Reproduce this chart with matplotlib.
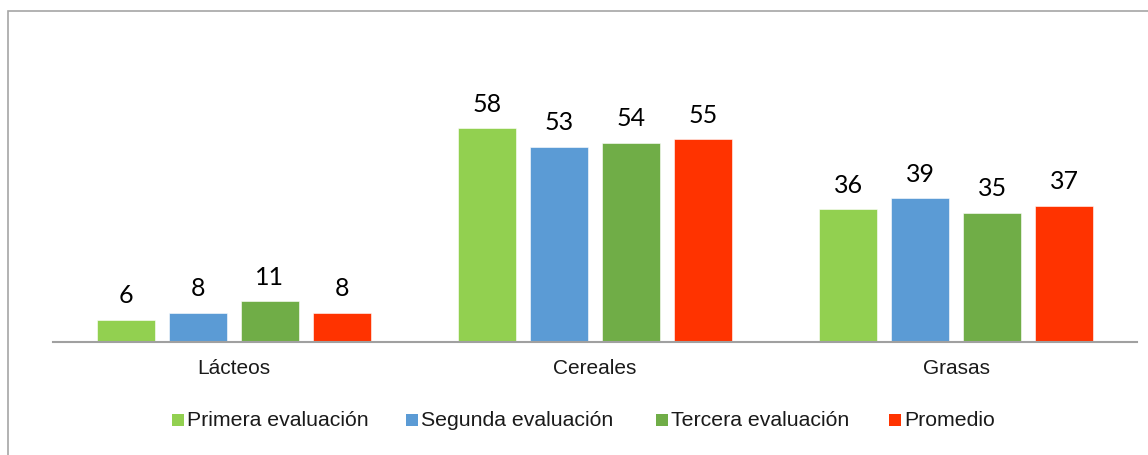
import matplotlib
matplotlib.use("Agg")
import matplotlib.pyplot as plt
from matplotlib.patches import Rectangle
import numpy as np

categories = ["Lácteos", "Cereales", "Grasas"]
series_names = ["Primera evaluación", "Segunda evaluación", "Tercera evaluación", "Promedio"]
primera = [6, 58, 36]
segunda = [8, 53, 39]
tercera = [11, 54, 35]
promedio = [8, 55, 37]
series_values = [primera, segunda, tercera, promedio]
colors = ["#92D050", "#5B9BD5", "#70AD47", "#FF3300"]

W, H = 1148, 455
fig = plt.figure(figsize=(W / 100, H / 100), dpi=100)

# outer chart frame
frame = Rectangle((8 / W, -0.05), 1.2, 1 - 11 / H + 0.05, transform=fig.transFigure,
                  fill=False, edgecolor="#A6A6A6", linewidth=1.2)
fig.patches.append(frame)

ax_left, ax_right = 53, 1137
ax_base, ax_top = 342, 84
ax = fig.add_axes([ax_left / W, (H - ax_base) / H, (ax_right - ax_left) / W, (ax_base - ax_top) / H])
ax.set_xlim(-0.5, len(categories) - 0.5)
ax.set_ylim(0, 70)

step = 72 / (ax_right - ax_left) * len(categories)
width = 58 / (ax_right - ax_left) * len(categories)
x = np.arange(len(categories))
for i, (vals, col) in enumerate(zip(series_values, colors)):
    pos = x + (i - 1.5) * step
    bars = ax.bar(pos, vals, width=width, color=col, edgecolor="white", linewidth=0.4)
    for b, v in zip(bars, vals):
        ax.annotate(f"{v}", (b.get_x() + b.get_width() / 2, v), xytext=(0, 9),
                    textcoords="offset points", ha="center", va="bottom",
                    fontsize=18, family=["Lato", "DejaVu Sans"], color="#000000")

for s in ["top", "left", "right"]:
    ax.spines[s].set_visible(False)
ax.spines["bottom"].set_color("#A0A0A0")
ax.spines["bottom"].set_linewidth(1.5)
ax.set_yticks([])
ax.set_xticks(x)
ax.set_xticklabels(categories, fontsize=15, family="Liberation Sans", color="#1a1a1a")
ax.tick_params(axis="x", length=0, pad=12)

# legend entries laid out in a single row below the categories
legend_marker_x = [172, 406, 656, 889]
legend_y = 420
msize = 12
for name, col, mx in zip(series_names, colors, legend_marker_x):
    fig.patches.append(Rectangle((mx / W, (H - legend_y - msize / 2) / H), msize / W, msize / H,
                                 transform=fig.transFigure, facecolor=col, edgecolor="none"))
    fig.text((mx + msize + 3) / W, (H - legend_y) / H, name, ha="left", va="center",
             fontsize=15.3, family="Liberation Sans", color="#1a1a1a")

fig.savefig("out.png", dpi=100)
